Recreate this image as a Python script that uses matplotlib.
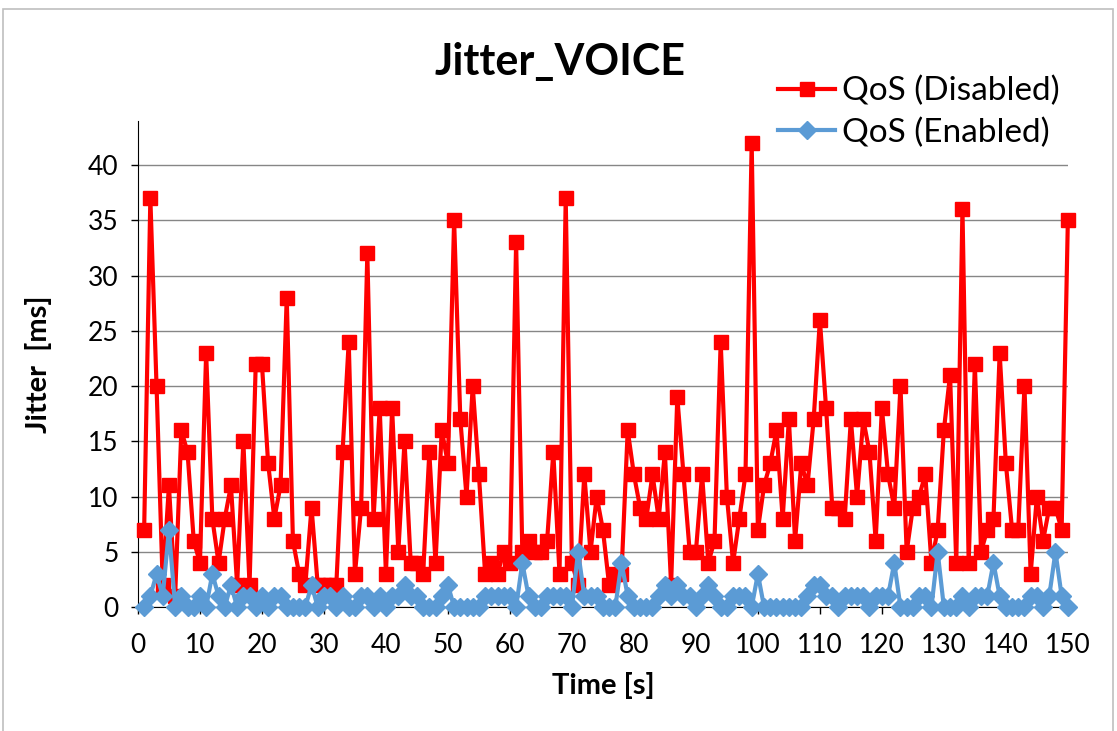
import matplotlib.pyplot as plt
import numpy as np
from matplotlib.patches import Rectangle

t = np.arange(1, 151)

qos_disabled = np.array([
    7, 37, 20, 2, 11, 1, 16, 14, 6, 4,
    23, 8, 4, 8, 11, 2, 15, 2, 22, 22,
    13, 8, 11, 28, 6, 3, 2, 9, 2, 2,
    2, 2, 14, 24, 3, 9, 32, 8, 18, 3,
    18, 5, 15, 4, 4, 3, 14, 4, 16, 13,
    35, 17, 10, 20, 12, 3, 4, 3, 5, 4,
    33, 5, 6, 5, 5, 6, 14, 3, 37, 4,
    2, 12, 5, 10, 7, 2, 3, 3, 16, 12,
    9, 8, 12, 8, 14, 2, 19, 12, 5, 5,
    12, 4, 6, 24, 10, 4, 8, 12, 42, 7,
    11, 13, 16, 8, 17, 6, 13, 11, 17, 26,
    18, 9, 9, 8, 17, 10, 17, 14, 6, 18,
    12, 9, 20, 5, 9, 10, 12, 4, 7, 16,
    21, 4, 36, 4, 22, 5, 7, 8, 23, 13,
    7, 7, 20, 3, 10, 6, 9, 9, 7, 35])

qos_enabled = np.array([
    0, 1, 3, 1, 7, 0, 1, 0, 0, 1,
    0, 3, 1, 0, 2, 0, 1, 1, 0, 1,
    0, 1, 1, 0, 0, 0, 0, 2, 0, 1,
    1, 0, 1, 0, 0, 1, 1, 0, 1, 0,
    1, 1, 2, 1, 1, 0, 0, 0, 1, 2,
    0, 0, 0, 0, 0, 1, 1, 1, 1, 1,
    0, 4, 1, 0, 0, 1, 1, 1, 1, 0,
    5, 1, 1, 1, 0, 0, 0, 4, 1, 0,
    0, 0, 0, 1, 2, 1, 2, 1, 1, 0,
    1, 2, 1, 0, 0, 1, 1, 1, 0, 3,
    0, 0, 0, 0, 0, 0, 0, 1, 2, 2,
    1, 1, 0, 1, 1, 1, 1, 0, 1, 1,
    1, 4, 0, 0, 0, 1, 1, 0, 5, 0,
    0, 0, 1, 0, 1, 1, 1, 4, 1, 0,
    0, 0, 0, 1, 1, 0, 1, 5, 1, 0])

plt.rcParams['font.family'] = ['Lato', 'DejaVu Sans']

fig = plt.figure(figsize=(11.17, 7.31), dpi=100)
ax = fig.add_axes([0.1235, 0.1696, 0.8325, 0.665])

# outer chart border (bottom edge runs off the image)
fig.patches.append(Rectangle((0.003, -0.02), 0.993, 1.008, transform=fig.transFigure,
                             fill=False, edgecolor='#BFBFBF', linewidth=1.2))

ax.plot(t, qos_disabled, color='#FF0000', linewidth=3, marker='s', markersize=10,
        label='QoS (Disabled)', clip_on=False, zorder=3)
ax.plot(t, qos_enabled, color='#5B9BD5', linewidth=3, marker='D', markersize=9.5,
        label='QoS (Enabled)', clip_on=False, zorder=4)

ax.set_xlim(0, 150)
ax.set_ylim(0, 44)
ax.set_xticks(np.arange(0, 151, 10))
ax.set_yticks(np.arange(0, 41, 5))
ax.grid(axis='y', color='#868686', linewidth=1)
ax.set_axisbelow(True)

for s in ['top', 'right']:
    ax.spines[s].set_visible(False)
ax.spines['left'].set_color('#000000')
ax.spines['bottom'].set_color('#000000')
ax.tick_params(axis='both', labelsize=19, direction='out', length=5, width=1)
ax.tick_params(axis='x', pad=14)
ax.tick_params(axis='y', pad=9)

ax.set_xlabel('Time [s]', fontsize=21, fontweight='bold', labelpad=10)
ax.set_ylabel('Jitter  [ms]', fontsize=21, fontweight='bold', labelpad=26)

fig.text(0.501, 0.915, 'Jitter_VOICE', fontsize=31, fontweight='bold', ha='center', va='center')

fig.legend(loc='upper left', bbox_to_anchor=(0.685, 0.914), frameon=False, fontsize=24,
           handlelength=1.7, handletextpad=0.2, labelspacing=0.33, borderaxespad=0)

fig.savefig('out.png', dpi=100)
